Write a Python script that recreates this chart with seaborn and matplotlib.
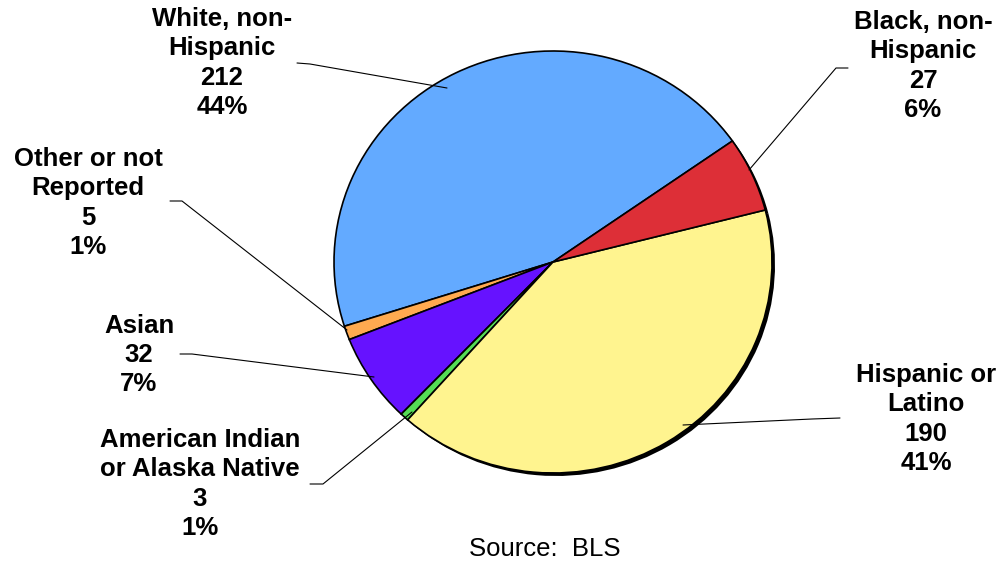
import matplotlib
matplotlib.use("Agg")
import matplotlib.pyplot as plt
import seaborn as sns

# data
groups = ["White, non-\nHispanic", "Other or not\nReported", "Asian",
          "American Indian\nor Alaska Native", "Hispanic or\nLatino", "Black, non-\nHispanic"]
counts = [212, 5, 32, 3, 190, 27]
pct_labels = ["44%", "1%", "7%", "1%", "41%", "6%"]
colors = ["#63AAFF", "#FFAA50", "#6612FF", "#55DD55", "#FFF48F", "#DD2F37"]

# layout (pixels in the 1005x562 picture)
W, H = 1005, 562
cx, cy = 553, 262
rx, ry = 219, 211
label_xy = [(222, 63), (88, 203), (139, 355), (200, 484), (926, 419), (923, 66)]
leaders = [
    [(297, 63), (310, 64), (447, 88)],
    [(170, 201), (182, 201), (347, 330)],
    [(180, 354), (192, 354), (374, 377)],
    [(310, 484), (323, 484), (412, 412)],
    [(840, 418), (812, 419), (683, 425)],
    [(848, 68), (836, 68), (749, 170)],
]


def px(x, y):
    return (x - cx) / rx, (cy - y) / ry


sns.set_theme(style="white")
plt.rcParams["font.family"] = ["Liberation Sans", "DejaVu Sans"]

fig = plt.figure(figsize=(W / 100, H / 100), dpi=100)
ax = fig.add_axes([0, 0, 1, 1])

# shadow underneath gives the heavy rim at bottom right
ax.pie(counts, colors=["black"] * len(counts), startangle=35, counterclock=True,
       center=(3 / rx, -3 / ry), radius=1.0, wedgeprops=dict(linewidth=0))
ax.pie(counts, colors=colors, startangle=35, counterclock=True,
       wedgeprops=dict(edgecolor="black", linewidth=1.2))

ax.set_aspect("auto")
ax.set_xlim(-cx / rx, (W - cx) / rx)
ax.set_ylim(-(H - cy) / ry, cy / ry)
ax.axis("off")

for g, n, p, (lx, ly) in zip(groups, counts, pct_labels, label_xy):
    x, y = px(lx, ly)
    ax.text(x, y, f"{g}\n{n}\n{p}", ha="center", va="center", fontsize=18.5,
            fontweight="bold", linespacing=1.27, color="black")

for pts in leaders:
    xs, ys = zip(*[px(a, b) for a, b in pts])
    ax.plot(xs, ys, color="black", linewidth=0.8)

sx, sy = px(545, 549)
ax.text(sx, sy, "Source:  BLS", ha="center", va="center", fontsize=18.5, color="black")

fig.savefig("out.png", dpi=100)
